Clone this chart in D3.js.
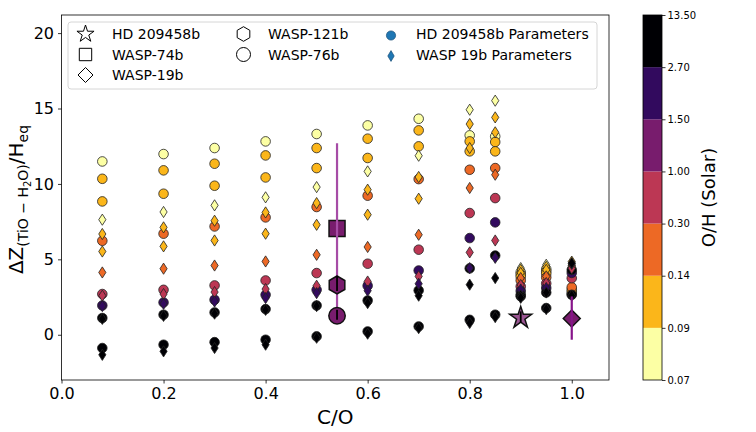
<!DOCTYPE html>
<html>
<head>
<meta charset="utf-8">
<script src="https://cdn.jsdelivr.net/npm/d3@7"></script>
<style>
  body { margin: 0; background: #fff; }
  svg { font-family: "DejaVu Sans", sans-serif; }
</style>
</head>
<body>
<svg id="chart" width="756" height="432"></svg>
<script>
// --- data ---
const coRatios = [0.08, 0.2, 0.3, 0.4, 0.5, 0.6, 0.7, 0.8, 0.85, 0.9, 0.95, 1.0];
const metallicities = [0.08, 0.1, 0.12, 0.2, 0.5, 2.0, 3.0, 10.0];   // O/H (solar), one per row

// HD 209458b parameters (circles), one row per metallicity
const hdCircles = [
  [11.49, 11.98, 12.38, 12.82, 13.31, 13.88, 14.32, 13.22, 13.15, 4.15, 4.35, 2.70],
  [10.34, 10.90, 11.34, 11.89, 12.38, 13.00, 13.55, 12.82, 12.78, 4.00, 4.20, 2.85],
  [ 8.84,  9.35,  9.88, 10.43, 11.05, 11.72, 12.49, 12.16, 12.16, 3.85, 4.05, 3.00],
  [ 6.23,  6.70,  7.18,  7.78,  8.47,  9.22, 10.32, 10.94, 11.05, 3.60, 3.80, 3.15],
  [ 2.70,  2.98,  3.27,  3.60,  4.09,  4.71,  5.64,  8.07,  9.06, 3.20, 3.40, 3.75],
  [ 1.94,  2.14,  2.32,  2.65,  2.98,  3.25,  4.26,  6.41,  7.45, 2.90, 3.10, 4.10],
  [ 1.11,  1.33,  1.48,  1.70,  1.94,  2.27,  2.94,  4.40,  5.25, 2.65, 2.80, 4.30],
  [-0.88, -0.66, -0.49, -0.33, -0.11,  0.22,  0.55,  0.99,  1.33, 2.55, 1.77, 2.65]
];

// WASP 19b parameters (thin diamonds)
const wasp19Diamonds = [
  [ 7.63,  8.14,  8.58,  9.11,  9.79, 10.83, 11.87, 14.92, 15.52, 4.42, 4.64, 4.45],
  [ 6.68,  7.12,  7.56,  8.11,  8.73,  9.62, 10.46, 13.97, 14.41, 4.30, 4.50, 4.85],
  [ 5.52,  5.86,  6.25,  6.70,  7.29,  7.96,  9.02, 12.38, 13.42, 4.10, 4.30, 4.60],
  [ 4.13,  4.38,  4.59,  4.86,  5.30,  5.82,  6.63,  9.73, 10.61, 3.76, 3.87, 4.55],
  [ 2.59,  2.70,  2.83,  3.03,  3.25,  3.53,  3.87,  5.46,  6.25, 3.30, 3.43, 4.40],
  [ 1.90,  2.05,  2.20,  2.43,  2.76,  2.92,  3.38,  4.42,  5.10, 3.00, 3.10, 4.70],
  [ 1.05,  1.25,  1.40,  1.65,  1.90,  2.10,  2.59,  3.32,  3.76, 2.60, 2.80, 4.75],
  [-1.33, -1.10, -0.88, -0.66, -0.20,  0.07,  0.44,  0.78,  1.17, 2.45, 1.70, 2.60]
];

// observed planets
const planetNames = ['WASP-74b', 'WASP-121b', 'WASP-76b', 'HD 209458b', 'WASP-19b'];
const planetCO    = [0.54, 0.54, 0.54, 0.9, 1.0];
const planetDZ    = [7.05, 3.30, 1.26, 1.12, 1.08];
const planetLow   = [1.0, 2.9, 1.0, 0.8, -0.33];
const planetHigh  = [12.7, 3.9, 1.66, 1.55, 2.54];
const planetOH    = 1.2;

// colour bar
const ohBounds = [0.07, 0.09, 0.14, 0.30, 1.00, 1.50, 2.70, 13.50];
const ohLabels = ['0.07', '0.09', '0.14', '0.30', '1.00', '1.50', '2.70', '13.50'];

const xTicks = [0, 0.2, 0.4, 0.6, 0.8, 1.0];
const yTicks = [0, 5, 10, 15, 20];

// --- layout ---
const svg = d3.select('#chart');
const plot = { left: 61.5, right: 609, top: 15, bottom: 380 };
const cbar = { left: 643, right: 662, top: 15, bottom: 380 };

const x = d3.scaleLinear().domain([0, 1.073]).range([plot.left, plot.right]);
const y = d3.scaleLinear().domain([-3, 21.2]).range([plot.bottom, plot.top]);

const nBins = ohBounds.length - 1;
const binColors = d3.range(nBins).map(i => d3.interpolateInferno(1 - i / (nBins - 1)));
const color = d3.scaleThreshold().domain(ohBounds.slice(1, -1)).range(binColors);

// marker paths
function starPath(R) {
  const r = R * 0.381966, pts = [];
  for (let i = 0; i < 10; i++) {
    const a = -Math.PI / 2 + i * Math.PI / 5, rr = i % 2 ? r : R;
    pts.push([rr * Math.cos(a), rr * Math.sin(a)]);
  }
  return 'M' + pts.map(p => p.join(',')).join('L') + 'Z';
}
function hexPath(R) {
  const pts = d3.range(6).map(i => {
    const a = -Math.PI / 2 + i * Math.PI / 3;
    return [R * Math.cos(a), R * Math.sin(a)];
  });
  return 'M' + pts.map(p => p.join(',')).join('L') + 'Z';
}
const diamondPath = (w, h) => `M0,${-h}L${w},0L0,${h}L${-w},0Z`;
const squarePath = s => `M${-s},${-s}H${s}V${s}H${-s}Z`;

// --- clip ---
svg.append('defs').append('clipPath').attr('id', 'clip')
  .append('rect')
  .attr('x', plot.left).attr('y', plot.top)
  .attr('width', plot.right - plot.left).attr('height', plot.bottom - plot.top);

const g = svg.append('g').attr('clip-path', 'url(#clip)');

// model grid: circles first, then diamonds
const circleData = hdCircles.flatMap((row, m) =>
  row.map((v, i) => ({ co: coRatios[i], dz: v, oh: metallicities[m] })));
const diamondData = wasp19Diamonds.flatMap((row, m) =>
  row.map((v, i) => ({ co: coRatios[i], dz: v, oh: metallicities[m] })));

g.selectAll('circle.hd')
  .data(circleData)
  .join('circle')
  .attr('class', 'hd')
  .attr('cx', d => x(d.co))
  .attr('cy', d => y(d.dz))
  .attr('r', 4.8)
  .attr('fill', d => color(d.oh))
  .attr('stroke', '#222')
  .attr('stroke-width', 0.8);

g.selectAll('path.w19')
  .data(diamondData)
  .join('path')
  .attr('class', 'w19')
  .attr('d', diamondPath(3.6, 5.6))
  .attr('transform', d => `translate(${x(d.co)},${y(d.dz)})`)
  .attr('fill', d => color(d.oh))
  .attr('stroke', '#222')
  .attr('stroke-width', 0.8);

// observed planets
const pColor = color(planetOH);
const shapes = [squarePath(8), hexPath(9), null, starPath(11.5), diamondPath(8.5, 8.5)];
const errColors = ['#a64ca6', '#000', '#000', '#000', '#87148a'];
const pAlpha = [1, 1, 1, 0.75, 1];

function drawErr(i) {
  g.append('line')
    .attr('x1', x(planetCO[i])).attr('x2', x(planetCO[i]))
    .attr('y1', y(planetLow[i])).attr('y2', y(planetHigh[i]))
    .attr('stroke', errColors[i]).attr('stroke-width', i === 0 || i === 4 ? 2.2 : 1.8);
}
function drawPlanet(i) {
  const px = x(planetCO[i]), py = y(planetDZ[i]);
  if (shapes[i]) {
    g.append('path').attr('d', shapes[i])
      .attr('transform', `translate(${px},${py})`)
      .attr('fill', pColor).attr('fill-opacity', pAlpha[i])
      .attr('stroke', '#111').attr('stroke-width', 1.5);
  } else {
    g.append('circle').attr('cx', px).attr('cy', py).attr('r', 8.2)
      .attr('fill', pColor).attr('stroke', '#111').attr('stroke-width', 1.5);
  }
}
drawPlanet(0);
drawErr(0);
[1, 2].forEach(i => { drawPlanet(i); drawErr(i); });
drawPlanet(3); drawErr(3);
drawPlanet(4); drawErr(4);

// --- axes ---
const xAxis = svg.append('g')
  .attr('transform', `translate(0,${plot.bottom})`)
  .call(d3.axisBottom(x).tickValues(xTicks).tickFormat(d3.format('.1f')).tickSize(3.5).tickPadding(4));
const yAxis = svg.append('g')
  .attr('transform', `translate(${plot.left},0)`)
  .call(d3.axisLeft(y).tickValues(yTicks).tickSize(3.5).tickPadding(4));
[xAxis, yAxis].forEach(a => {
  a.select('.domain').remove();
  a.selectAll('text').attr('font-size', 16).attr('fill', '#000')
    .attr('font-family', '"DejaVu Sans", sans-serif');
  a.selectAll('line').attr('stroke', '#000').attr('stroke-width', 0.8);
});

svg.append('rect')
  .attr('x', plot.left).attr('y', plot.top)
  .attr('width', plot.right - plot.left).attr('height', plot.bottom - plot.top)
  .attr('fill', 'none').attr('stroke', '#000').attr('stroke-width', 0.8);

svg.append('text')
  .attr('x', (plot.left + plot.right) / 2).attr('y', 424)
  .attr('text-anchor', 'middle').attr('font-size', 20)
  .text('C/O');

const yl = svg.append('text')
  .attr('transform', `translate(23,${(plot.top + plot.bottom) / 2 + 2}) rotate(-90)`)
  .attr('text-anchor', 'middle').attr('font-size', 20);
yl.append('tspan').text('ΔZ');
yl.append('tspan').attr('font-size', 14).attr('dy', 5).text('(TiO − H');
yl.append('tspan').attr('font-size', 10).attr('dy', 3).text('2');
yl.append('tspan').attr('font-size', 14).attr('dy', -3).text('O)');
yl.append('tspan').attr('dy', -5).text('/H');
yl.append('tspan').attr('font-size', 14).attr('dy', 5).text('eq');

// --- legend ---
const leg = svg.append('g');
leg.append('rect')
  .attr('x', 68).attr('y', 22).attr('width', 529).attr('height', 67).attr('rx', 3)
  .attr('fill', '#fff').attr('fill-opacity', 0.8)
  .attr('stroke', '#ccc').attr('stroke-width', 0.8);

const legItems = [
  { label: 'HD 209458b', d: starPath(9), col: 0, row: 0, open: true },
  { label: 'WASP-74b', d: squarePath(6.2), col: 0, row: 1, open: true },
  { label: 'WASP-19b', d: diamondPath(7.5, 7.5), col: 0, row: 2, open: true },
  { label: 'WASP-121b', d: hexPath(7.3), col: 1, row: 0, open: true },
  { label: 'WASP-76b', circle: 7, col: 1, row: 1, open: true },
  { label: 'HD 209458b Parameters', circle: 4.6, col: 2, row: 0 },
  { label: 'WASP 19b Parameters', d: diamondPath(3.2, 5.4), col: 2, row: 1 }
];
const legCols = [{ m: 85.5, t: 112 }, { m: 243.5, t: 268 }, { m: 391, t: 416 }];
const legRows = [34, 54.5, 75];

legItems.forEach(it => {
  const mx = legCols[it.col].m, my = legRows[it.row];
  const fill = it.open ? '#fff' : '#1f77b4';
  const stroke = it.open ? '#000' : '#1a4f77';
  if (it.circle) {
    leg.append('circle').attr('cx', mx).attr('cy', my + (it.open ? 0 : 1.5)).attr('r', it.circle)
      .attr('fill', fill).attr('stroke', stroke).attr('stroke-width', it.open ? 1 : 0.7);
  } else {
    leg.append('path').attr('d', it.d)
      .attr('transform', `translate(${mx},${my + (it.open ? 0 : 1.5)})`)
      .attr('fill', fill).attr('stroke', stroke).attr('stroke-width', it.open ? 1 : 0.7);
  }
  leg.append('text')
    .attr('x', legCols[it.col].t).attr('y', my + 5)
    .attr('font-size', 14)
    .text(it.label);
});

// --- colour bar ---
const cy = d3.scaleLinear().domain([0, nBins]).range([cbar.bottom, cbar.top]);
svg.append('g').selectAll('rect')
  .data(binColors)
  .join('rect')
  .attr('x', cbar.left)
  .attr('y', (c, i) => cy(i + 1))
  .attr('width', cbar.right - cbar.left)
  .attr('height', (c, i) => cy(i) - cy(i + 1))
  .attr('fill', c => c);
svg.append('rect')
  .attr('x', cbar.left).attr('y', cbar.top)
  .attr('width', cbar.right - cbar.left).attr('height', cbar.bottom - cbar.top)
  .attr('fill', 'none').attr('stroke', '#000').attr('stroke-width', 0.8);

const cAxis = svg.append('g')
  .attr('transform', `translate(${cbar.right},0)`)
  .call(d3.axisRight(cy).tickValues(d3.range(ohBounds.length)).tickFormat(i => ohLabels[i])
    .tickSize(3.5).tickPadding(2));
cAxis.select('.domain').remove();
cAxis.selectAll('text').attr('font-size', 10).attr('fill', '#000')
  .attr('font-family', '"DejaVu Sans", sans-serif');
cAxis.selectAll('line').attr('stroke', '#000').attr('stroke-width', 0.8);

svg.append('text')
  .attr('transform', `translate(715,${(cbar.top + cbar.bottom) / 2}) rotate(-90)`)
  .attr('text-anchor', 'middle').attr('font-size', 18)
  .text('O/H (Solar)');
</script>
</body>
</html>
